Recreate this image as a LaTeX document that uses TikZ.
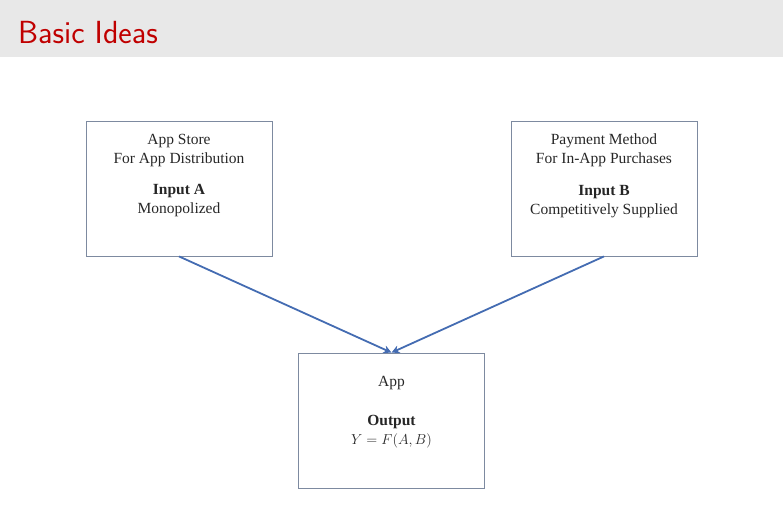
\documentclass[tikz,border=0pt]{standalone}
\usepackage{fontspec}
\setmainfont{Liberation Serif}
\usepackage{tikz}
\usetikzlibrary{arrows.meta}

\definecolor{titlered}{RGB}{192,0,0}
\definecolor{titlegray}{RGB}{232,232,232}
\definecolor{boxline}{RGB}{125,138,160}
\definecolor{arrowblue}{RGB}{68,108,178}

\begin{document}
\begin{tikzpicture}[x=1pt, y=-1pt,
        inbox/.style={draw=boxline, line width=0.8pt, rectangle, minimum width=186pt, minimum height=135pt, inner sep=0pt},
        boxtext/.style={anchor=north, align=center, inner sep=0pt, text=black!85, font=\fontsize{15.5}{19}\selectfont},
        feed/.style={draw=arrowblue, line width=1.8pt, -{Stealth[length=8pt,width=8pt]}}]

    \useasboundingbox (0,0) rectangle (783,523);
    \fill[titlegray] (0,0) rectangle (783,57);
    \node[anchor=base west, inner sep=0pt, text=titlered, font=\sffamily\fontsize{32}{32}\selectfont] (title) at (18,43) {Basic Ideas};

    % the three boxes
    \node[inbox] (store) at (179,188.5) {};
    \node[inbox] (pay) at (604,188.5) {};
    \node[inbox] (app) at (391.5,420.5) {};

    \node[boxtext] (storeText) at (179,134) {App Store\\For App Distribution\\[12.5pt]\textbf{Input A}\\Monopolized};
    \node[boxtext] (payText) at (604,134) {Payment Method\\For In-App Purchases\\[12.5pt]\textbf{Input B}\\Competitively Supplied};
    \node[boxtext] (appText) at (391.5,376) {App\\[20.5pt]\textbf{Output}\\$Y=F(A,B)$};

    \draw[feed] (store.south) -- (app.north);
    \draw[feed] (pay.south) -- (app.north);

\end{tikzpicture}
\end{document}
